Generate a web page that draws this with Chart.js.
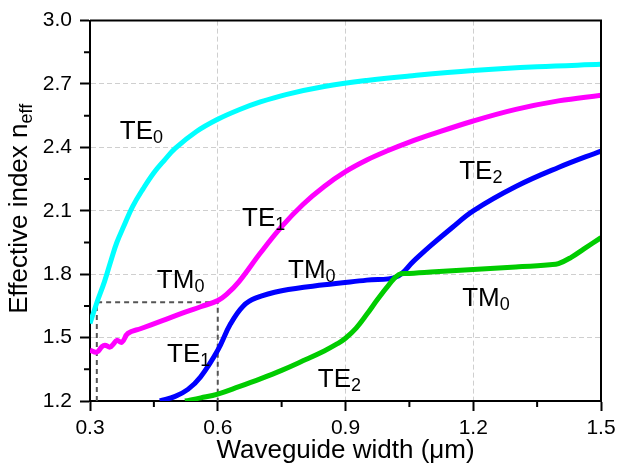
<!DOCTYPE html>
<html>
<head>
<meta charset="utf-8">
<script src="https://cdn.jsdelivr.net/npm/chart.js@4.4.1/dist/chart.umd.min.js"></script>
<style>
  html, body { margin: 0; padding: 0; background: #fff; }
  #wrap { width: 622px; height: 470px; }
</style>
</head>
<body>
<div id="wrap"><canvas id="neffChart"></canvas></div>
<script>
// ── Mode curves: waveguide width (µm) vs effective index ──
const te0Width = [0.300, 0.316, 0.334, 0.350, 0.363, 0.380, 0.400, 0.425, 0.450, 0.475, 0.500, 0.550, 0.600, 0.650, 0.700, 0.760, 0.850, 0.950, 1.050, 1.200, 1.350, 1.500];
const te0Neff  = [1.567, 1.665, 1.765, 1.870, 1.950, 2.030, 2.120, 2.205, 2.280, 2.340, 2.395, 2.475, 2.533, 2.578, 2.615, 2.650, 2.688, 2.717, 2.738, 2.764, 2.782, 2.793];

const magWidth = [0.300, 0.316, 0.327, 0.335, 0.347, 0.355, 0.363, 0.375, 0.389, 0.420, 0.470, 0.520, 0.560, 0.600, 0.620, 0.650, 0.700, 0.750, 0.800, 0.850, 0.900, 0.950, 1.000, 1.050, 1.100, 1.200, 1.300, 1.400, 1.500];
const magNeff  = [1.440, 1.431, 1.455, 1.464, 1.455, 1.470, 1.487, 1.478, 1.520, 1.543, 1.580, 1.618, 1.646, 1.675, 1.703, 1.765, 1.900, 2.025, 2.130, 2.215, 2.285, 2.340, 2.385, 2.425, 2.460, 2.525, 2.580, 2.620, 2.647];

const blueWidth = [0.464, 0.500, 0.530, 0.560, 0.600, 0.630, 0.660, 0.690, 0.750, 0.850, 0.950, 1.020, 1.060, 1.100, 1.150, 1.200, 1.300, 1.400, 1.500];
const blueNeff  = [1.200, 1.222, 1.255, 1.315, 1.440, 1.565, 1.650, 1.688, 1.722, 1.750, 1.772, 1.788, 1.862, 1.935, 2.020, 2.100, 2.215, 2.305, 2.383];

const greenWidth = [0.523, 0.560, 0.600, 0.650, 0.700, 0.750, 0.800, 0.850, 0.880, 0.900, 0.925, 0.950, 0.975, 1.000, 1.025, 1.050, 1.100, 1.200, 1.300, 1.380, 1.400, 1.430, 1.460, 1.500];
const greenNeff  = [1.200, 1.215, 1.233, 1.268, 1.305, 1.345, 1.390, 1.437, 1.470, 1.497, 1.545, 1.610, 1.680, 1.745, 1.798, 1.803, 1.810, 1.822, 1.834, 1.845, 1.850, 1.880, 1.920, 1.973];

// dashed zoom box
const boxWidth = [0.316, 0.316, 0.600, 0.600];
const boxNeff  = [1.200, 1.667, 1.667, 1.200];

// ── Curve labels (left edge / baseline in data units) ──
const labelMain  = ['TE', 'TE', 'TM', 'TM', 'TE', 'TE', 'TE', 'TM'];
const labelSub   = ['0', '1', '0', '0', '1', '2', '2', '0'];
const labelWidth = [0.370, 0.657, 0.457, 0.765, 0.481, 1.167, 0.835, 1.174];
const labelNeff  = [2.439, 2.029, 1.737, 1.784, 1.384, 2.251, 1.266, 1.650];

const FONT = '"Liberation Sans", Arial, sans-serif';

const toPoints = (xs, ys) => xs.map((x, i) => ({ x, y: ys[i] }));
const isMajor = (v, start) => Math.abs(Math.round((v - start) / 0.15)) % 2 === 0;

function modeLine(xs, ys, color) {
  return {
    data: toPoints(xs, ys),
    borderColor: color,
    borderWidth: 5,
    pointRadius: 0,
    fill: false,
    tension: 0.4
  };
}

// ── Extra drawing: frame, minor ticks, labels, axis titles ──
const decorPlugin = {
  id: 'decor',
  afterDraw(chart) {
    const { ctx, chartArea: a, scales: { x, y } } = chart;
    ctx.save();

    ctx.strokeStyle = '#000';
    ctx.lineWidth = 2;
    ctx.beginPath();
    ctx.moveTo(a.left, a.top);
    ctx.lineTo(a.right, a.top);
    ctx.lineTo(a.right, a.bottom);
    ctx.stroke();

    // minor ticks
    ctx.beginPath();
    x.ticks.forEach(t => {
      if (isMajor(t.value, 0.3)) return;
      const px = x.getPixelForValue(t.value);
      ctx.moveTo(px, a.bottom); ctx.lineTo(px, a.bottom + 6);
    });
    y.ticks.forEach(t => {
      if (isMajor(t.value, 1.2)) return;
      const py = y.getPixelForValue(t.value);
      ctx.moveTo(a.left, py); ctx.lineTo(a.left - 6, py);
    });
    ctx.stroke();

    // curve labels with subscripts
    ctx.fillStyle = '#000';
    ctx.textBaseline = 'alphabetic';
    ctx.textAlign = 'left';
    labelMain.forEach((txt, i) => {
      const px = x.getPixelForValue(labelWidth[i]);
      const py = y.getPixelForValue(labelNeff[i]);
      ctx.font = '26px ' + FONT;
      ctx.fillText(txt, px, py);
      const w = ctx.measureText(txt).width;
      ctx.font = '18px ' + FONT;
      ctx.fillText(labelSub[i], px + w, py + 4);
    });

    // x title
    ctx.font = '26px ' + FONT;
    ctx.textAlign = 'center';
    ctx.fillText('Waveguide width (\u03bcm)', (a.left + a.right) / 2, a.bottom + 57);

    // y title (rotated, with subscript)
    ctx.translate(27, (a.top + a.bottom) / 2 - 2);
    ctx.rotate(-Math.PI / 2);
    ctx.textAlign = 'left';
    const main = 'Effective index n';
    ctx.font = '26px ' + FONT;
    const w1 = ctx.measureText(main).width;
    ctx.font = '18px ' + FONT;
    const w2 = ctx.measureText('eff').width;
    const x0 = -(w1 + w2) / 2;
    ctx.font = '26px ' + FONT;
    ctx.fillText(main, x0, 0);
    ctx.font = '18px ' + FONT;
    ctx.fillText('eff', x0 + w1, 5);

    ctx.restore();
  }
};

const gridColor = (c, start) => (c.tick && isMajor(c.tick.value, start)) ? '#cfcfcf' : 'transparent';
const tickColor = (c, start) => (c.tick && isMajor(c.tick.value, start)) ? '#000' : 'transparent';

new Chart(document.getElementById('neffChart'), {
  type: 'line',
  data: {
    datasets: [
      modeLine(te0Width, te0Neff, '#00ffff'),
      modeLine(magWidth, magNeff, '#ff00ff'),
      modeLine(greenWidth, greenNeff, '#00cc00'),
      modeLine(blueWidth, blueNeff, '#0000ff'),
      {
        data: toPoints(boxWidth, boxNeff),
        borderColor: '#555',
        borderWidth: 2,
        borderDash: [5, 4],
        pointRadius: 0,
        fill: false,
        tension: 0
      }
    ]
  },
  options: {
    responsive: true,
    maintainAspectRatio: false,
    animation: false,
    layout: { padding: { left: 42, top: 19, right: 21, bottom: 0 } },
    plugins: { legend: { display: false }, tooltip: { enabled: false } },
    scales: {
      x: {
        type: 'linear', min: 0.3, max: 1.5,
        afterFit: s => { s.height = 69; },
        ticks: {
          stepSize: 0.15, autoSkip: false, maxRotation: 0, padding: 5,
          color: '#000', font: { family: FONT, size: 21 },
          callback: v => isMajor(v, 0.3) ? v.toFixed(1) : ''
        },
        grid: {
          color: c => gridColor(c, 0.3), lineWidth: 1,
          tickLength: 10, tickWidth: 2, tickColor: c => tickColor(c, 0.3)
        },
        border: { color: '#000', width: 2, dash: [5, 3] }
      },
      y: {
        type: 'linear', min: 1.2, max: 3.0,
        afterFit: s => { s.width = 48; },
        ticks: {
          stepSize: 0.15, autoSkip: false, padding: 8,
          color: '#000', font: { family: FONT, size: 21 },
          callback: v => isMajor(v, 1.2) ? v.toFixed(1) : ''
        },
        grid: {
          color: c => gridColor(c, 1.2), lineWidth: 1,
          tickLength: 10, tickWidth: 2, tickColor: c => tickColor(c, 1.2)
        },
        border: { color: '#000', width: 2, dash: [5, 3] }
      }
    }
  },
  plugins: [decorPlugin]
});
</script>
</body>
</html>
